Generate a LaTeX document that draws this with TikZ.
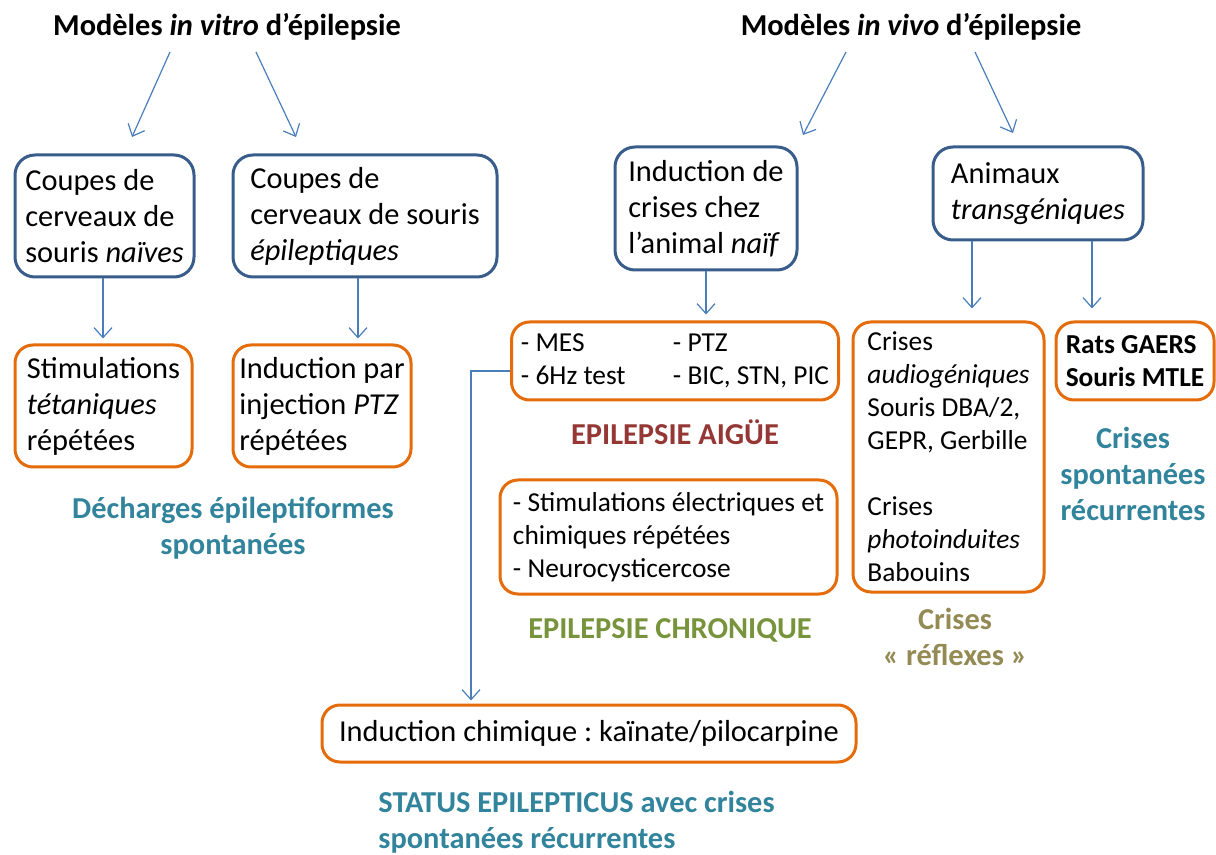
\documentclass[tikz,border=0pt]{standalone}
\usepackage{fontspec}
\setmainfont{Carlito}
\usetikzlibrary{arrows.meta}

\definecolor{boxblue}{RGB}{56,93,138}
\definecolor{arrblue}{RGB}{74,126,187}
\definecolor{boxorange}{RGB}{228,108,10}
\definecolor{teal}{RGB}{49,132,155}
\definecolor{darkred}{RGB}{149,55,53}
\definecolor{olivegreen}{RGB}{119,147,60}
\definecolor{khaki}{RGB}{148,138,84}

\begin{document}
\frenchspacing
\begin{tikzpicture}[x=0.5pt, y=-0.5pt,
    every node/.style={font=\fontsize{15.2}{18}\selectfont},
    bluebox/.style={draw=boxblue, line width=1.5pt, rounded corners=10pt, align=left, inner sep=0pt},
    orangebox/.style={draw=boxorange, line width=1.5pt, rounded corners=9pt, align=left, inner sep=0pt},
    small/.style={font=\fontsize{13.7}{16.5}\selectfont},
    heading/.style={font=\fontsize{15.2}{18}\selectfont\bfseries},
    tag/.style={font=\fontsize{15.2}{18}\selectfont\bfseries, align=center},
    arr/.style={draw=arrblue, line width=0.6pt, -{Straight Barb[length=5pt, width=9pt]}}]
     \useasboundingbox (0,0) rectangle (1216,855);

     % titles
     \node[heading] (tvitro) at (227,27) {Modèles \textit{in vitro} d’épilepsie};
     \node[heading] (tvivo) at (911,27) {Modèles \textit{in vivo} d’épilepsie};

     % in vitro
     \node[bluebox, minimum width=89.5pt, minimum height=61pt] (naives) at (104.5,216)
          {Coupes de\\cerveaux de\\souris \textit{naïves}};
     \node[bluebox, minimum width=132pt, minimum height=61pt] (epil) at (365,216)
          {Coupes de\\cerveaux de souris\\\textit{épileptiques}};
     \node[orangebox, minimum width=88.5pt, minimum height=61pt] (tetan) at (103.5,406)
          {Stimulations\\\textit{tétaniques}\\répétées};
     \node[orangebox, minimum width=89pt, minimum height=61pt] (ptz) at (322,406)
          {Induction par\\injection \textit{PTZ}\\répétées};
     \node[tag, text=teal] (decharges) at (233,528) {Décharges épileptiformes\\spontanées};

     % in vivo
     \node[bluebox, minimum width=91pt, minimum height=61.5pt] (induc) at (706,208.5)
          {Induction de\\crises chez\\l’animal \textit{naïf}};
     \node[bluebox, minimum width=105pt, minimum height=46.5pt] (transg) at (1038,193.5)
          {Animaux\\\textit{transgéniques}};
     \node[orangebox, small, minimum width=163.5pt, minimum height=39pt] (aigue) at (675,361)
          {\begin{tabular}{@{}p{76pt}@{}l@{}}- MES & - PTZ\\- 6Hz test & - BIC, STN, PIC\end{tabular}};
     \node[tag, text=darkred] (taigue) at (675,432) {EPILEPSIE AIGÜE};
     \node[orangebox, small, minimum width=168.5pt, minimum height=57pt] (chron) at (668.5,537)
          {- Stimulations électriques et\\chimiques répétées\\- Neurocysticercose};
     \node[tag, text=olivegreen] (tchron) at (670,630) {EPILEPSIE CHRONIQUE};
     \node[orangebox, small, minimum width=95.5pt, minimum height=135pt] (reflex) at (948.5,457)
          {Crises\\\textit{audiogéniques}\\Souris DBA/2,\\GEPR, Gerbille\\[16.5pt]Crises\\\textit{photoinduites}\\Babouins};
     \node[tag, text=khaki] (treflex) at (955,637) {Crises\\« réflexes »};
     \node[orangebox, minimum width=79pt, minimum height=39pt, font=\fontsize{13.7}{16.5}\selectfont\bfseries] (rats) at (1135,361)
          {Rats GAERS\\Souris MTLE};
     \node[tag, text=teal] (tspont) at (1133,474) {Crises\\spontanées\\récurrentes};
     \node[orangebox, minimum width=267pt, minimum height=28.5pt] (kain) at (589,733.5)
          {Induction chimique : kaïnate/pilocarpine};
     \node[tag, text=teal, align=left, anchor=west, inner sep=0pt] (tstatus) at (378,822)
          {STATUS EPILEPTICUS avec crises\\spontanées récurrentes};

     % arrows
     \coordinate (vnaives) at (132,137);
     \coordinate (vepil) at (296,137);
     \coordinate (vinduc) at (803,135);
     \coordinate (vtransg) at (1013,133);
     \draw[arr] ([xshift=-28.5pt,yshift=-12.5pt]tvitro.center) -- (vnaives);
     \draw[arr] ([xshift=14.5pt,yshift=-12.5pt]tvitro.center) -- (vepil);
     \draw[arr] ([xshift=-32.5pt,yshift=-12.5pt]tvivo.center) -- (vinduc);
     \draw[arr] ([xshift=32pt,yshift=-12.5pt]tvivo.center) -- (vtransg);

     \draw[arr, shorten >=2.5pt] ([xshift=-0.75pt]naives.south) -- ([xshift=-0.25pt]tetan.north);
     \draw[arr, shorten >=2.5pt] ([xshift=-3.5pt]epil.south) -- ([xshift=18pt]ptz.north);
     \draw[arr, shorten >=3pt] (induc.south) -- (induc.south |- aigue.north);
     \draw[arr, shorten >=6pt] ([xshift=-33pt]transg.south) -- ([xshift=-33pt]transg.south |- reflex.north);
     \draw[arr, shorten >=6pt] ([xshift=27pt]transg.south) -- ([xshift=27pt]transg.south |- rats.north);
     \draw[arr, shorten >=1.5pt] ([yshift=-5pt]aigue.west) -| ([xshift=-59pt]kain.north);
   \end{tikzpicture}
\end{document}
